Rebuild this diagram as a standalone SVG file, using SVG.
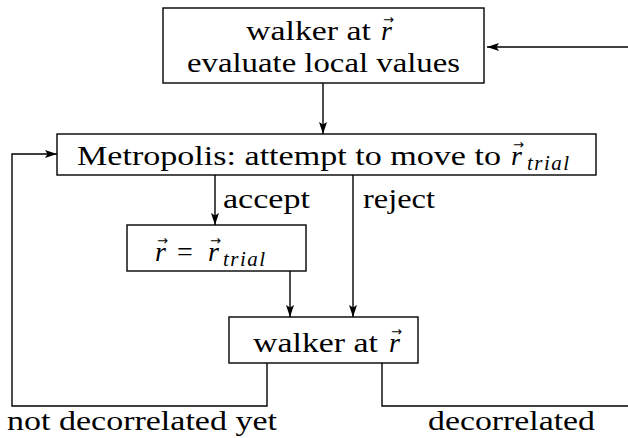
<svg xmlns="http://www.w3.org/2000/svg" width="628" height="438" viewBox="0 0 628 438" font-family="'Liberation Serif', 'DejaVu Serif', serif">
<defs>
<style>
.box{fill:#fff;stroke:#000;stroke-width:1.4}
.ln{fill:none;stroke:#000;stroke-width:1.4}
.t{font-family:'Liberation Serif','DejaVu Serif',serif;font-style:normal;font-size:28px;fill:#000}
.it{font-family:'Liberation Serif','DejaVu Serif',serif;font-style:italic;font-size:28px;fill:#000}
.sub{font-family:'Liberation Serif','DejaVu Serif',serif;font-style:italic;font-size:21px;letter-spacing:1.5px;fill:#000}
.vec{font-family:'DejaVu Sans',sans-serif;font-style:normal;font-size:13px;fill:#000}
</style>
<marker id="ah" viewBox="0 0 12 8" refX="12" refY="4" markerWidth="12" markerHeight="8" orient="auto" markerUnits="userSpaceOnUse">
<path d="M0,0 L12,4 L0,8 L2.5,4 z" fill="#000"/>
</marker>
</defs>
<g id="connectors">
<path class="ln" d="M628,47 H487" marker-end="url(#ah)"/>
<path class="ln" d="M323,83 V134" marker-end="url(#ah)"/>
<path class="ln" d="M267,363 V406 H12 V154 H57" marker-end="url(#ah)"/>
<path class="ln" d="M215,175 V225" marker-end="url(#ah)"/>
<path class="ln" d="M353,175 V317" marker-end="url(#ah)"/>
<path class="ln" d="M290,271 V317" marker-end="url(#ah)"/>
<path class="ln" d="M382,363 V406 H628"/>
<text class="t" x="223" y="208" textLength="87" lengthAdjust="spacingAndGlyphs">accept</text>
<text class="t" x="363" y="208" textLength="72" lengthAdjust="spacingAndGlyphs">reject</text>
<text class="t" x="7" y="430" textLength="270" lengthAdjust="spacingAndGlyphs">not decorrelated yet</text>
<text class="t" x="428" y="430" textLength="167" lengthAdjust="spacingAndGlyphs">decorrelated</text>
</g>
<g id="start">
<rect class="box" x="163" y="8" width="321" height="75"/>
<text class="t" x="246" y="40" textLength="125" lengthAdjust="spacingAndGlyphs">walker at</text>
<text class="it" x="381" y="40">r<tspan class="vec" x="383" y="24">→</tspan></text>
<text class="t" x="187" y="72" textLength="273" lengthAdjust="spacingAndGlyphs">evaluate local values</text>
</g>
<g id="metropolis">
<rect class="box" x="57" y="134" width="539" height="41"/>
<text class="t" x="77" y="165" textLength="424" lengthAdjust="spacingAndGlyphs">Metropolis: attempt to move to</text>
<text class="it" x="511" y="165">r<tspan class="vec" x="513" y="149">→</tspan><tspan class="sub" x="527" y="170">trial</tspan></text>
</g>
<g id="accept-box">
<rect class="box" x="127" y="225" width="179" height="46"/>
<text class="it" x="155" y="261">r<tspan class="vec" x="157" y="245">→</tspan><tspan class="t" x="177" y="261">=</tspan><tspan x="208" y="261">r</tspan><tspan class="vec" x="210" y="245">→</tspan><tspan class="sub" x="223" y="266">trial</tspan></text>
</g>
<g id="walker">
<rect class="box" x="229" y="317" width="189" height="46"/>
<text class="t" x="253" y="352" textLength="125" lengthAdjust="spacingAndGlyphs">walker at</text>
<text class="it" x="389" y="352">r<tspan class="vec" x="391" y="336">→</tspan></text>
</g>
</svg>
